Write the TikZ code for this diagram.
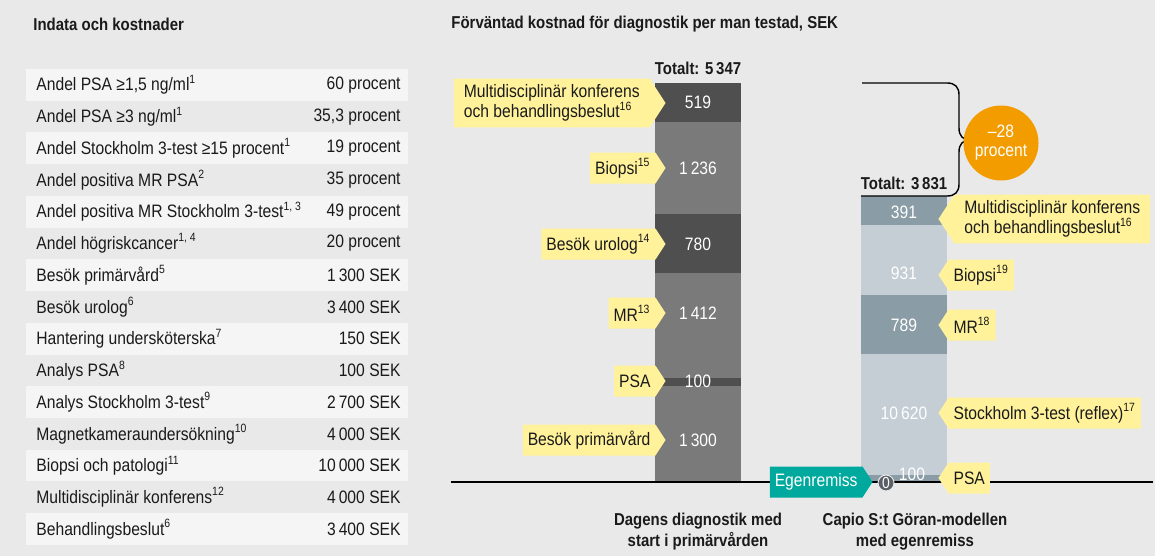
\documentclass[tikz,border=0pt]{standalone}
\usepackage{fontspec}
\setmainfont{Liberation Sans}[FakeStretch=0.87]
\usetikzlibrary{shapes.symbols}

\definecolor{bggray}{HTML}{E9E9E9}
\definecolor{rowlight}{HTML}{F5F5F5}
\definecolor{inkblack}{HTML}{1A1A1A}
\definecolor{bardark}{HTML}{4F4F4F}
\definecolor{barmid}{HTML}{7A7A7A}
\definecolor{slatedark}{HTML}{8A9CA5}
\definecolor{slatelight}{HTML}{C5CED5}
\definecolor{tagyellow}{HTML}{FFF29B}
\definecolor{egenteal}{HTML}{00A99D}
\definecolor{pctorange}{HTML}{F39C00}
\definecolor{zerogray}{HTML}{5A6066}

\begin{document}
\begin{tikzpicture}[x=0.5pt,y=-0.5pt,
  every node/.style={font=\fontsize{9}{10}\selectfont, text=inkblack},
  lbl/.style={anchor=west, inner sep=0pt},
  val/.style={anchor=east, inner sep=0pt},
  head/.style={font=\fontsize{8.6}{10.5}\selectfont\bfseries, inner sep=0pt},
  num/.style={text=white, inner sep=0pt},
  tagL/.style={signal, signal to=east, signal pointer angle=114, fill=tagyellow,
    minimum height=15.5pt, inner xsep=2.5pt, inner ysep=1pt, align=left, anchor=east},
  tagR/.style={signal, signal to=west, signal pointer angle=114, fill=tagyellow,
    minimum height=15.5pt, inner xsep=2.5pt, inner ysep=1pt, align=left, anchor=west},
]
\fill[bggray] (0,0) rectangle (1155,556);

% table
\node[head, anchor=west] (t0) at (33,24) {Indata och kostnader};
\foreach \r in {0,2,...,14}
  \fill[rowlight] (26,{69+\r*31.73}) rectangle ++(382,31.73);

\node[lbl] (l1) at (36,84.9) {Andel PSA ≥1,5 ng/ml\textsuperscript{1}};
\node[val] (v1) at (401,84.9) {60 procent};
\node[lbl] (l2) at (36,116.6) {Andel PSA ≥3 ng/ml\textsuperscript{1}};
\node[val] (v2) at (401,116.6) {35,3 procent};
\node[lbl] (l3) at (36,148.3) {Andel Stockholm 3-test ≥15 procent\textsuperscript{1}};
\node[val] (v3) at (401,148.3) {19 procent};
\node[lbl] (l4) at (36,180.1) {Andel positiva MR PSA\textsuperscript{2}};
\node[val] (v4) at (401,180.1) {35 procent};
\node[lbl] (l5) at (36,211.8) {Andel positiva MR Stockholm 3-test\textsuperscript{1, 3}};
\node[val] (v5) at (401,211.8) {49 procent};
\node[lbl] (l6) at (36,243.5) {Andel högriskcancer\textsuperscript{1, 4}};
\node[val] (v6) at (401,243.5) {20 procent};
\node[lbl] (l7) at (36,275.3) {Besök primärvård\textsuperscript{5}};
\node[val] (v7) at (401,275.3) {1\,300 SEK};
\node[lbl] (l8) at (36,307.0) {Besök urolog\textsuperscript{6}};
\node[val] (v8) at (401,307.0) {3\,400 SEK};
\node[lbl] (l9) at (36,338.7) {Hantering undersköterska\textsuperscript{7}};
\node[val] (v9) at (401,338.7) {150 SEK};
\node[lbl] (l10) at (36,370.5) {Analys PSA\textsuperscript{8}};
\node[val] (v10) at (401,370.5) {100 SEK};
\node[lbl] (l11) at (36,402.2) {Analys Stockholm 3-test\textsuperscript{9}};
\node[val] (v11) at (401,402.2) {2\,700 SEK};
\node[lbl] (l12) at (36,433.9) {Magnetkameraundersökning\textsuperscript{10}};
\node[val] (v12) at (401,433.9) {4\,000 SEK};
\node[lbl] (l13) at (36,465.7) {Biopsi och patologi\textsuperscript{11}};
\node[val] (v13) at (401,465.7) {10\,000 SEK};
\node[lbl] (l14) at (36,497.4) {Multidisciplinär konferens\textsuperscript{12}};
\node[val] (v14) at (401,497.4) {4\,000 SEK};
\node[lbl] (l15) at (36,529.1) {Behandlingsbeslut\textsuperscript{6}};
\node[val] (v15) at (401,529.1) {3\,400 SEK};

% chart
\node[head, anchor=west] (c0) at (451,24) {Förväntad kostnad för diagnostik per man testad, SEK};

% bar today
\fill[bardark] (655,83) rectangle (741,122);
\fill[barmid] (655,122) rectangle (741,214);
\fill[bardark] (655,214) rectangle (741,273);
\fill[barmid] (655,273) rectangle (741,378);
\fill[bardark] (655,378) rectangle (741,386);
\fill[barmid] (655,386) rectangle (741,482);
\node[head] (totA) at (698,68) {Totalt: 5\,347};
\node[num] (a1) at (698,102) {519};
\node[num] (a2) at (698,168) {1\,236};
\node[num] (a3) at (698,244) {780};
\node[num] (a4) at (698,313) {1\,412};
\node[num] (a5) at (698,381) {100};
\node[num] (a6) at (698,440) {1\,300};

% bar capio
\fill[slatedark] (861,196) rectangle (947,225);
\fill[slatelight] (861,225) rectangle (947,295);
\fill[slatedark] (861,295) rectangle (947,354);
\fill[slatelight] (861,354) rectangle (947,475);
\fill[slatedark] (861,475) rectangle (947,482);
\node[head] (totB) at (904,183) {Totalt: 3\,831};
\node[num] (b1) at (904,212) {391};
\node[num] (b2) at (904,273) {931};
\node[num] (b3) at (904,325) {789};
\node[num] (b4) at (904,413) {10\,620};
\node[num] (b5) at (912,474) {100};

% axis line
\coordinate (axL) at (451,482);
\coordinate (axR) at (1153,482);
\draw[line width=1pt, black] (axL) -- (axR);

% labels today
\node[tagL, inner xsep=5pt, inner ysep=3pt] (p1) at (666,103) {Multidisciplinär konferens\\och behandlingsbeslut\textsuperscript{16}};
\node[tagL] (p2) at (666,168) {Biopsi\textsuperscript{15}};
\node[tagL] (p3) at (666,244) {Besök urolog\textsuperscript{14}};
\node[tagL] (p4) at (666,313) {MR\textsuperscript{13}};
\node[tagL] (p5) at (666,381) {PSA};
\node[tagL] (p6) at (666,440) {Besök primärvård};

% labels capio
\node[tagR, inner xsep=5pt, inner ysep=3pt] (q1) at (938,219) {Multidisciplinär konferens\\och behandlingsbeslut\textsuperscript{16}};
\node[tagR] (q2) at (938,275) {Biopsi\textsuperscript{19}};
\node[tagR] (q3) at (938,325) {MR\textsuperscript{18}};
\node[tagR] (q4) at (938,413) {Stockholm 3-test (reflex)\textsuperscript{17}};
\node[tagR] (q5) at (938,478) {PSA};

\node[signal, signal to=east, signal pointer angle=114, fill=egenteal, text=white,
  minimum height=15.5pt, inner xsep=2.5pt, inner ysep=1pt, anchor=east] (egen) at (873,482) {Egenremiss};
\node[circle, fill=zerogray, draw=bggray, line width=0.5pt, minimum size=8pt, inner sep=0pt,
  text=white, font=\fontsize{8}{9}\selectfont] (zero) at (886,483) {0};

% difference
\coordinate (brA) at (862,83);
\coordinate (brB) at (861,196);
\draw[line width=0.7pt, black] (brA) -- (947,83) .. controls (955,83) and (959,87) .. (959,95)
  -- (959,128) .. controls (959,136) and (963,140) .. (970,140)
  .. controls (963,140) and (959,144) .. (959,152) -- (959,184)
  .. controls (959,192) and (955,196) .. (947,196) -- (brB);
\node[circle, fill=pctorange, text=white, minimum size=37.5pt, inner sep=0pt, align=center,
  font=\fontsize{9}{9.5}\selectfont] (pct) at (1001,143) {–28\\procent};

% captions
\node[head, align=center] (capA) at (698,532) {Dagens diagnostik med\\start i primärvården};
\node[head, align=center] (capB) at (915,532) {Capio S:t Göran-modellen\\med egenremiss};
\end{tikzpicture}
\end{document}
